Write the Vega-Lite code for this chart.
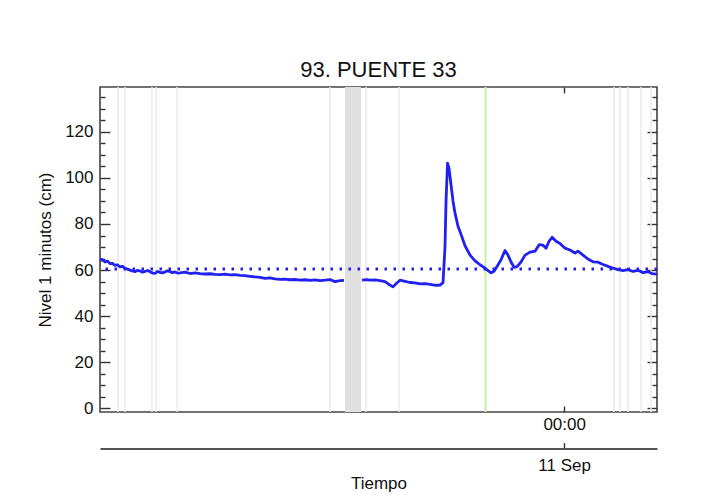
{
  "$schema": "https://vega.github.io/schema/vega-lite/v6.json",
  "autosize": {"type": "none"},
  "width": 557,
  "height": 325,
  "padding": {"left": 100, "top": 87, "right": 56, "bottom": 83},
  "background": "white",
  "title": {"text": "93. PUENTE 33", "fontSize": 22, "font": "Liberation Sans", "fontWeight": "normal", "color": "#111", "offset": 4},
  "config": {
    "view": {"stroke": "#444", "strokeWidth": 1.6},
    "axis": {"grid": false, "labelFont": "Liberation Sans", "titleFont": "Liberation Sans", "labelFontSize": 17, "titleFontSize": 17, "titleFontWeight": "normal", "labelColor": "#111", "titleColor": "#111", "tickColor": "#333", "tickWidth": 1.4, "ticks": true, "domain": false}
  },
  "datasets": {
    "nivel": [
      {"h": 0, "nivel": 64.3}, {"h": 0.2, "nivel": 64.6}, {"h": 0.43, "nivel": 63.5}, {"h": 0.65, "nivel": 63.9}, {"h": 0.86, "nivel": 62.8},
      {"h": 1.08, "nivel": 62.9}, {"h": 1.29, "nivel": 62}, {"h": 1.5, "nivel": 62.3}, {"h": 1.72, "nivel": 61.4}, {"h": 1.94, "nivel": 61.6},
      {"h": 2.15, "nivel": 60.8}, {"h": 2.37, "nivel": 60.4}, {"h": 2.59, "nivel": 60}, {"h": 2.8, "nivel": 59.6}, {"h": 3.02, "nivel": 59.3},
      {"h": 3.23, "nivel": 59.9}, {"h": 3.45, "nivel": 59.6}, {"h": 3.67, "nivel": 59.1}, {"h": 3.88, "nivel": 59.4}, {"h": 4.1, "nivel": 59.8},
      {"h": 4.31, "nivel": 59.3}, {"h": 4.53, "nivel": 58.7}, {"h": 4.74, "nivel": 58.6}, {"h": 4.96, "nivel": 59.4}, {"h": 5.17, "nivel": 59},
      {"h": 5.39, "nivel": 58.8}, {"h": 5.6, "nivel": 59.2}, {"h": 5.82, "nivel": 59.7}, {"h": 6.03, "nivel": 59.3}, {"h": 6.25, "nivel": 58.9},
      {"h": 6.46, "nivel": 59.2}, {"h": 6.68, "nivel": 58.7}, {"h": 6.89, "nivel": 58.8}, {"h": 7.33, "nivel": 59.1}, {"h": 7.76, "nivel": 58.5},
      {"h": 8.19, "nivel": 58.8}, {"h": 8.62, "nivel": 58.5}, {"h": 9.05, "nivel": 58.3}, {"h": 9.48, "nivel": 58.4}, {"h": 9.91, "nivel": 58.1},
      {"h": 10.34, "nivel": 58}, {"h": 10.77, "nivel": 58.2}, {"h": 11.2, "nivel": 57.9}, {"h": 11.63, "nivel": 58}, {"h": 12.07, "nivel": 57.7},
      {"h": 12.5, "nivel": 57.6}, {"h": 12.93, "nivel": 57.3}, {"h": 13.36, "nivel": 57}, {"h": 13.79, "nivel": 56.8}, {"h": 14.22, "nivel": 56.4},
      {"h": 14.65, "nivel": 56.6}, {"h": 15.08, "nivel": 56.2}, {"h": 15.51, "nivel": 56}, {"h": 15.94, "nivel": 56.1}, {"h": 16.37, "nivel": 55.8},
      {"h": 16.8, "nivel": 55.9}, {"h": 17.24, "nivel": 55.6}, {"h": 17.67, "nivel": 55.8}, {"h": 18.1, "nivel": 55.5}, {"h": 18.53, "nivel": 55.7},
      {"h": 18.96, "nivel": 55.4}, {"h": 19.39, "nivel": 55.6}, {"h": 19.82, "nivel": 55.9}, {"h": 20.25, "nivel": 55}, {"h": 20.68, "nivel": 55.4},
      {"h": 21.03, "nivel": 55.5}, {"h": 21.8, "nivel": null},
      {"h": 22.58, "nivel": 55.6}, {"h": 23.0, "nivel": 55.9}, {"h": 23.27, "nivel": 55.6}, {"h": 23.7, "nivel": 55.7}, {"h": 24.13, "nivel": 55.4},
      {"h": 24.56, "nivel": 55}, {"h": 24.99, "nivel": 53.5}, {"h": 25.25, "nivel": 52.7}, {"h": 25.6, "nivel": 54.5}, {"h": 25.85, "nivel": 55.6},
      {"h": 26.29, "nivel": 55.1}, {"h": 26.72, "nivel": 54.6}, {"h": 27.15, "nivel": 54.4}, {"h": 27.58, "nivel": 54}, {"h": 28.01, "nivel": 54.1},
      {"h": 28.44, "nivel": 53.8}, {"h": 28.95, "nivel": 53.4}, {"h": 29.3, "nivel": 53.5}, {"h": 29.56, "nivel": 54.5}, {"h": 29.73, "nivel": 70},
      {"h": 29.82, "nivel": 90}, {"h": 29.95, "nivel": 106.4}, {"h": 30.08, "nivel": 104}, {"h": 30.25, "nivel": 97}, {"h": 30.42, "nivel": 90},
      {"h": 30.59, "nivel": 84.8}, {"h": 30.85, "nivel": 79}, {"h": 31.11, "nivel": 75.5}, {"h": 31.46, "nivel": 70.5}, {"h": 31.89, "nivel": 66.5},
      {"h": 32.32, "nivel": 64}, {"h": 32.75, "nivel": 62.3}, {"h": 33.18, "nivel": 60.8}, {"h": 33.44, "nivel": 59.8}, {"h": 33.7, "nivel": 58.8},
      {"h": 33.96, "nivel": 59.5}, {"h": 34.21, "nivel": 61.5}, {"h": 34.56, "nivel": 64.5}, {"h": 34.9, "nivel": 68.5}, {"h": 35.16, "nivel": 66.5},
      {"h": 35.42, "nivel": 63.5}, {"h": 35.68, "nivel": 61.2}, {"h": 35.94, "nivel": 61.5}, {"h": 36.28, "nivel": 63.5}, {"h": 36.63, "nivel": 66.5},
      {"h": 37.06, "nivel": 67.8}, {"h": 37.49, "nivel": 68.2}, {"h": 37.84, "nivel": 71}, {"h": 38.18, "nivel": 70.8}, {"h": 38.44, "nivel": 69.5},
      {"h": 38.7, "nivel": 72.5}, {"h": 38.96, "nivel": 74.2}, {"h": 39.3, "nivel": 72.5}, {"h": 39.64, "nivel": 71.5}, {"h": 40.07, "nivel": 69.5},
      {"h": 40.5, "nivel": 68.7}, {"h": 40.93, "nivel": 67.4}, {"h": 41.19, "nivel": 68.2}, {"h": 41.62, "nivel": 66.5}, {"h": 42.05, "nivel": 64.8},
      {"h": 42.49, "nivel": 63.6}, {"h": 42.92, "nivel": 63.4}, {"h": 43.35, "nivel": 62.4}, {"h": 43.78, "nivel": 61.6}, {"h": 44.21, "nivel": 60.8},
      {"h": 44.64, "nivel": 60.2}, {"h": 45.07, "nivel": 59.8}, {"h": 45.5, "nivel": 60.2}, {"h": 45.93, "nivel": 59.4}, {"h": 46.36, "nivel": 59.9},
      {"h": 46.8, "nivel": 58.9}, {"h": 47.23, "nivel": 59.3}, {"h": 47.57, "nivel": 58.5}, {"h": 48, "nivel": 58.2}
    ],
    "marcas": [
      {"h": 1.55}, {"h": 2.15}, {"h": 4.48}, {"h": 4.83}, {"h": 6.64}, {"h": 19.82}, {"h": 22.92}, {"h": 25.77},
      {"h": 44.29}, {"h": 44.81}, {"h": 45.5}, {"h": 46.62}, {"h": 47.48}
    ],
    "banda": [{"h1": 21.11, "h2": 22.49}],
    "verde": [{"h": 33.22}],
    "referencia": [{"nivel": 60.5}]
  },
  "layer": [
    {
      "data": {"name": "banda"},
      "mark": {"type": "rect", "color": "#e0e0e0"},
      "encoding": {
        "x": {"field": "h1", "type": "quantitative", "scale": {"domain": [0, 48], "nice": false, "zero": false}, "axis": null},
        "x2": {"field": "h2"}
      }
    },
    {
      "data": {"name": "marcas"},
      "mark": {"type": "rule", "color": "#ebebeb", "strokeWidth": 1.5},
      "encoding": {
        "x": {"field": "h", "type": "quantitative", "scale": {"domain": [0, 48], "nice": false, "zero": false},
          "axis": {"orient": "top", "values": [40], "labels": false, "title": null, "tickSize": -6}}
      }
    },
    {
      "data": {"name": "verde"},
      "mark": {"type": "rule", "color": "#c8f0a8", "strokeWidth": 2},
      "encoding": {
        "x": {"field": "h", "type": "quantitative", "scale": {"domain": [0, 48], "nice": false, "zero": false},
          "axis": {"orient": "bottom", "offset": 36.6, "values": [40], "labelExpr": "'11 Sep'", "labelPadding": 15, "tickSize": -6,
            "domain": true, "domainColor": "#555", "domainWidth": 2,
            "title": "Tiempo", "titlePadding": 2}}
      }
    },
    {
      "data": {"name": "referencia"},
      "mark": {"type": "rule", "color": "#2020f0", "strokeWidth": 3, "strokeDash": [2.5, 6.5]},
      "encoding": {
        "y": {"field": "nivel", "type": "quantitative", "scale": {"domain": [-1.6, 139.45], "nice": false, "zero": false},
          "axis": {"orient": "right", "values": [0,5,10,15,20,25,30,35,40,45,50,55,60,65,70,75,80,85,90,95,100,105,110,115,120,125,130,135],
            "labels": false, "title": null,
            "tickSize": {"condition": {"test": "datum.value % 20 === 0", "value": -10}, "value": -5}}}
      }
    },
    {
      "data": {"name": "nivel"},
      "mark": {"type": "line", "color": "#2020f0", "strokeWidth": 2.8, "strokeJoin": "round", "invalid": "break-paths-show-domains"},
      "encoding": {
        "x": {"field": "h", "type": "quantitative", "scale": {"domain": [0, 48], "nice": false, "zero": false},
          "axis": {"orient": "bottom", "values": [40], "labelExpr": "'00:00'", "labelPadding": 10, "title": null, "tickSize": -6}},
        "y": {"field": "nivel", "type": "quantitative", "scale": {"domain": [-1.6, 139.45], "nice": false, "zero": false},
          "axis": {"orient": "left", "values": [0,5,10,15,20,25,30,35,40,45,50,55,60,65,70,75,80,85,90,95,100,105,110,115,120,125,130,135],
            "labelExpr": "datum.value % 20 === 0 ? datum.label : ''", "labelPadding": 17,
            "tickSize": {"condition": {"test": "datum.value % 20 === 0", "value": -10}, "value": -5},
            "title": "Nivel 1 minutos (cm)", "titlePadding": 10}}
      }
    }
  ],
  "resolve": {"scale": {"x": "independent", "y": "independent"}}
}
